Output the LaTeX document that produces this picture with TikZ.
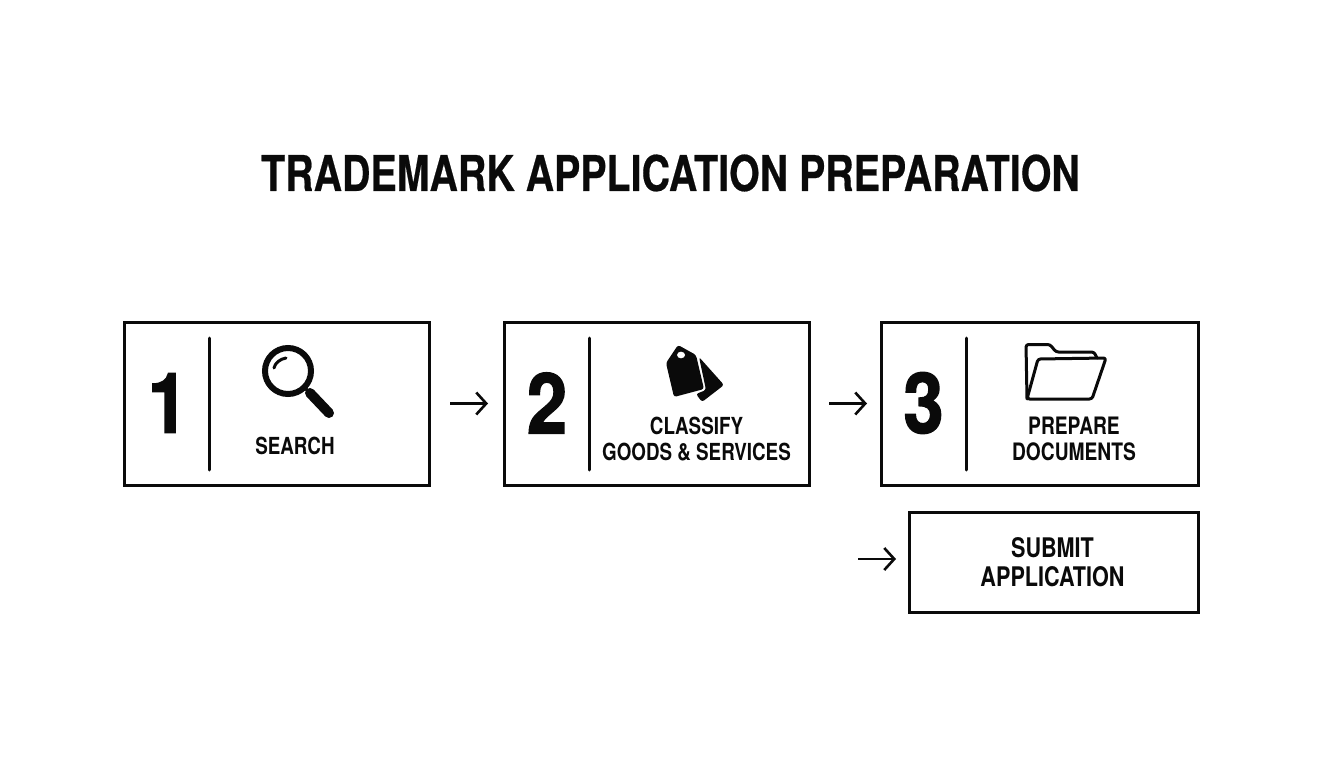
\documentclass[tikz,border=0pt]{standalone}
\usepackage{fontspec}
\usetikzlibrary{arrows.meta}
\newfontfamily\condf[FakeStretch=0.8]{TeX Gyre Heros}
\newfontfamily\headf[FakeStretch=0.8,BoldFeatures={FakeBold=0.4}]{TeX Gyre Heros}
\newfontfamily\numf[FakeStretch=0.86,BoldFeatures={FakeBold=1.6}]{TeX Gyre Heros}
\tikzset{
  x=1pt,y=-1pt,
  stepbox/.style={draw=ink,line width=3pt,minimum width=#1,minimum height=163pt,inner sep=0pt,outer sep=0pt},
  divider/.style={draw=ink,line width=3pt,line cap=round},
  flow/.style={draw=ink,line width=2.5pt,-{Straight Barb[length=10pt,width=22pt,line width=2.6pt]}},
  numlab/.style={font=\numf\bfseries\fontsize{84}{84}\selectfont,text=ink,inner sep=0pt},
  lab/.style={font=\condf\bfseries\fontsize{24}{26}\selectfont,text=ink,inner sep=0pt,align=center},
  icon/.style={draw=ink,line width=3pt,line join=round,line cap=round}
}
\definecolor{ink}{RGB}{10,10,10}
\begin{document}
\begin{tikzpicture}
\useasboundingbox (0,0) rectangle (1344,768);
\fill[white] (0,0) rectangle (1344,768);
\node[font=\headf\bfseries\fontsize{49.2}{49}\selectfont,text=ink,inner sep=0pt] (title) at (670.5,173) {TRADEMARK APPLICATION PREPARATION};

\node[stepbox=305pt] (b1) at (276.5,403.5) {};
\node[stepbox=305pt] (b2) at (656.5,403.5) {};
\node[stepbox=317pt] (b3) at (1039.5,403.5) {};
\node[stepbox=289pt,minimum height=100pt] (b4) at (1053.5,562) {};

\coordinate (d1t) at (209,338); \coordinate (d1b) at (209,470);
\coordinate (d2t) at (589,338); \coordinate (d2b) at (589,470);
\coordinate (d3t) at (966,338); \coordinate (d3b) at (966,470);
\draw[divider] (d1t) -- (d1b);
\draw[divider] (d2t) -- (d2b);
\draw[divider] (d3t) -- (d3b);

\node[numlab] (n1) at (168,403) {1};
\node[numlab] (n2) at (547,403) {2};
\node[numlab] (n3) at (923.5,403) {3};

\node[lab,font=\condf\bfseries\fontsize{23.5}{26}\selectfont] (t1) at (295,446) {SEARCH};
\node[lab,font=\condf\bfseries\fontsize{23.5}{26}\selectfont] (t2) at (696.5,439) {CLASSIFY\\GOODS \& SERVICES};
\node[lab] (t3) at (1074,439) {PREPARE\\DOCUMENTS};
\node[lab,font=\condf\bfseries\fontsize{27}{29}\selectfont] (t4) at (1052.5,562) {SUBMIT\\APPLICATION};

\draw[flow,shorten <=21pt,shorten >=16pt] (b1) -- (b2);
\draw[flow,shorten <=20pt,shorten >=14pt] (b2) -- (b3);
\coordinate (s4) at (858,559);
\draw[flow,shorten >=13pt] (s4) -- (s4 -| b4.west);

% magnifier
\draw[ink,line width=6pt] (288,371) circle (23);
\draw[ink,line width=3pt,line cap=round] (274,368) .. controls (275,363) and (280,359) .. (286,358);
\draw[ink,line width=3.5pt] (304,387) -- (311,394);
\draw[ink,line width=10pt,line cap=round] (310,393) -- (329,413);

% tags
\fill[ink,rounded corners=2.5pt] (699,357) -- (724,385) -- (702,402) -- (696,394) -- (706,390) -- cycle;
\fill[ink,rounded corners=2.5pt] (678,345) -- (666,363) -- (674,397) -- (704,389) -- (696,355) -- cycle;
\fill[white] (681,355) ellipse (4 and 3.3);

% folder
\draw[icon,rounded corners=2.5pt] (1027,399) -- (1026,344.5) -- (1050,344.5) -- (1056,352) -- (1094,352) -- (1097,358);
\draw[icon,rounded corners=2.5pt] (1027,399) -- (1038,359) -- (1106,358) -- (1092,399) -- cycle;
\end{tikzpicture}
\end{document}
